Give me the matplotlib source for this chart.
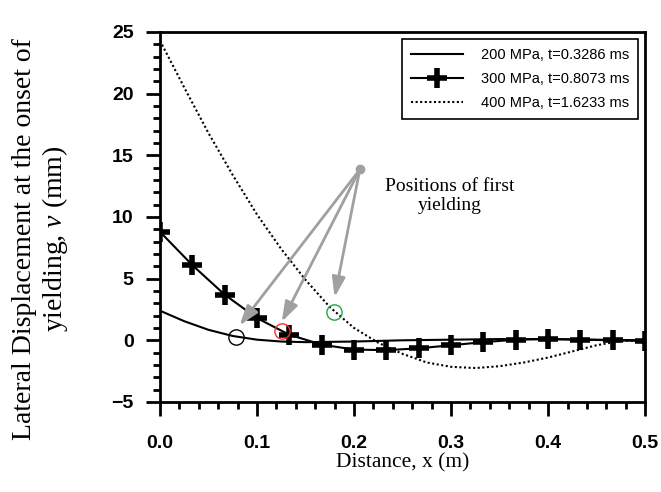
import matplotlib
matplotlib.use('Agg')
import matplotlib.pyplot as plt
from matplotlib.ticker import MultipleLocator, FormatStrFormatter

plt.rcParams['mathtext.fontset'] = 'custom'
plt.rcParams['mathtext.rm'] = 'Liberation Serif'
plt.rcParams['mathtext.it'] = 'Liberation Serif:italic'

# 200 MPa, solid line
x200 = [0.0, 0.025, 0.05, 0.075, 0.1, 0.125, 0.15, 0.2, 0.25, 0.3, 0.35, 0.4, 0.45, 0.5]
y200 = [2.4, 1.55, 0.85, 0.35, 0.05, -0.1, -0.15, -0.1, 0.0, 0.05, 0.1, 0.1, 0.05, 0.0]

# 300 MPa, solid line with plus markers
x300 = [0.0, 0.0333, 0.0667, 0.1, 0.1333, 0.1667, 0.2, 0.2333, 0.2667, 0.3, 0.3333,
        0.3667, 0.4, 0.4333, 0.4667, 0.5]
y300 = [8.8, 6.1, 3.7, 1.8, 0.45, -0.35, -0.75, -0.8, -0.65, -0.4, -0.15,
        0.05, 0.1, 0.05, 0.0, -0.05]

# 400 MPa, dotted line
x400 = [0.0, 0.025, 0.05, 0.075, 0.1, 0.125, 0.15, 0.175, 0.2, 0.225, 0.25, 0.275,
        0.3, 0.325, 0.35, 0.375, 0.4, 0.425, 0.45, 0.475, 0.5]
y400 = [24.3, 20.5, 16.8, 13.4, 10.2, 7.4, 4.9, 2.7, 1.0, -0.2, -1.1, -1.8,
        -2.15, -2.25, -2.1, -1.8, -1.4, -0.9, -0.4, -0.05, 0.0]

labels = ['200 MPa, t=0.3286 ms', '300 MPa, t=0.8073 ms', '400 MPa, t=1.6233 ms']

# positions of first yielding (circles) and arrow tips
yield_x = [0.078, 0.126, 0.179]
yield_y = [0.27, 0.76, 2.3]
yield_colors = ['black', '#ff2a2a', '#1fa83c']
tip_x = [0.082, 0.1255, 0.180]
tip_y = [1.2, 1.5, 3.5]
src = (0.206, 13.85)

fig = plt.figure(figsize=(6.61, 4.92), dpi=100)
ax = fig.add_axes([0.242, 0.183, 0.734, 0.752])

ax.plot(x200, y200, color='black', lw=1.5, label=labels[0])
ax.plot(x300, y300, color='black', lw=1.5, marker='+', ms=14, mew=4, label=labels[1])
ax.plot(x400, y400, color='black', lw=1.5, linestyle=(0, (1, 1.2)), label=labels[2])

for cx, cy, cc in zip(yield_x, yield_y, yield_colors):
    ax.plot(cx, cy, marker='o', ms=11, mfc='none', mec=cc, mew=1, zorder=5)

grey = '#a0a0a0'
for tx, ty in zip(tip_x, tip_y):
    ax.annotate('', xy=(tx, ty), xytext=src,
                arrowprops=dict(arrowstyle='-|>,head_length=0.6,head_width=0.2',
                                color=grey, lw=2, mutation_scale=20,
                                shrinkA=0, shrinkB=0))
ax.plot(src[0], src[1], 'o', color=grey, ms=6, zorder=6)
ax.text(0.299, 11.7, 'Positions of first\nyielding', ha='center', va='center',
        family='Liberation Serif', fontsize=14, linespacing=1.2)

ax.set_xlim(0, 0.5)
ax.set_ylim(-5, 25)
ax.xaxis.set_major_locator(MultipleLocator(0.1))
ax.xaxis.set_minor_locator(MultipleLocator(0.02))
ax.yaxis.set_major_locator(MultipleLocator(5))
ax.yaxis.set_minor_locator(MultipleLocator(1))
ax.xaxis.set_major_formatter(FormatStrFormatter('%.1f'))

for s in ax.spines.values():
    s.set_linewidth(2)
ax.tick_params(which='major', length=10, width=2)
ax.tick_params(which='minor', length=5, width=2)
ax.tick_params(axis='x', which='major', pad=14)
ax.tick_params(axis='y', which='major', pad=9)
for lab in ax.get_xticklabels() + ax.get_yticklabels():
    lab.set_family('Liberation Sans')
    lab.set_fontweight('bold')
    lab.set_fontsize(14)

ax.set_xlabel('Distance, x (m)', family='Liberation Serif', fontsize=15.5, labelpad=1)
ax.set_ylabel('Lateral Displacement at the onset of\nyielding, $v$ (mm)',
              family='Liberation Serif', fontsize=20, linespacing=1.15)
ax.yaxis.set_label_coords(-0.185, 0.44)

leg = ax.legend(loc='upper right', bbox_to_anchor=(1, 1), borderaxespad=0.5,
                prop={'family': 'Liberation Sans', 'size': 10.5}, handlelength=3.6,
                handletextpad=1.2, borderpad=0.6, labelspacing=0.68,
                fancybox=False, framealpha=1, edgecolor='black')
leg.get_frame().set_linewidth(1.2)

fig.savefig('out.png', dpi=100)
